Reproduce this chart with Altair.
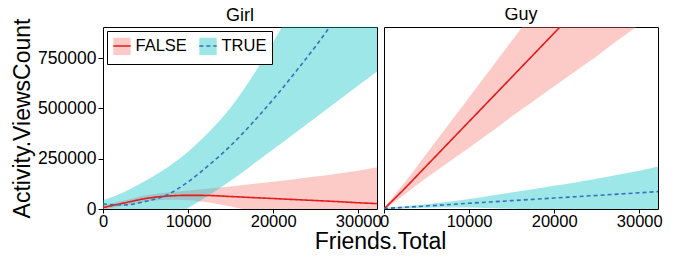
import altair as alt
import pandas as pd

# x grid (Friends.Total)
xs = [0, 2500, 5000, 7500, 10000, 12500, 15000, 17500, 20000, 22500, 25000, 27500, 30000, 32200]

# Girl panel
girl_false_fit = [7000, 30000, 52000, 64000, 68000, 67000, 62000, 57000, 52000, 47000, 42000, 37000, 31000, 27000]
girl_false_hi = [17000, 42000, 68000, 82000, 92000, 102000, 112000, 124000, 136000, 148000, 161000, 175000, 190000, 207000]
girl_false_lo = [-3000, 18000, 36000, 46000, 44000, 32000, 12000, -10000, -32000, -54000, -77000, -101000, -128000, -153000]
girl_true_fit = [25000, 20000, 38000, 70000, 135000, 220000, 315000, 425000, 545000, 675000, 810000, 955000, 1100000, 1240000]
girl_true_hi = [43000, 85000, 140000, 205000, 285000, 385000, 505000, 655000, 830000, 1010000, 1190000, 1370000, 1560000, 1750000]
girl_true_lo = [7000, -30000, -60000, -50000, 5000, 70000, 140000, 218000, 297000, 376000, 455000, 535000, 614000, 684000]

# Guy panel
guy_false_fit = [0, 105000, 215000, 325000, 435000, 545000, 655000, 765000, 875000, 985000, 1095000, 1205000, 1315000, 1410000]
guy_false_hi = [5000, 135000, 275000, 415000, 555000, 695000, 835000, 975000, 1115000, 1255000, 1395000, 1535000, 1675000, 1800000]
guy_false_lo = [-5000, 75000, 155000, 230000, 305000, 380000, 460000, 535000, 610000, 685000, 760000, 840000, 915000, 985000]
guy_true_fit = [2000, 8500, 15000, 21500, 28500, 35000, 41500, 48000, 54500, 61000, 67500, 74000, 80500, 86500]
guy_true_hi = [6000, 14000, 24000, 36000, 50000, 66000, 82000, 98000, 115000, 132000, 150000, 170000, 190000, 211000]
guy_true_lo = [-2000, 3000, 6000, 7000, 7000, 4000, 1000, -2000, -6000, -10000, -14000, -20000, -29000, -38000]

groups = ["FALSE", "TRUE"]
x_ticks = [0, 10000, 20000, 30000]
y_ticks = [0, 250000, 500000, 750000]

series = {
    ("Girl", "FALSE"): (girl_false_fit, girl_false_lo, girl_false_hi),
    ("Girl", "TRUE"): (girl_true_fit, girl_true_lo, girl_true_hi),
    ("Guy", "FALSE"): (guy_false_fit, guy_false_lo, guy_false_hi),
    ("Guy", "TRUE"): (guy_true_fit, guy_true_lo, guy_true_hi),
}

rows = []
for (panel, grp), (fit, lo, hi) in series.items():
    for x, f, l, h in zip(xs, fit, lo, hi):
        rows.append({"panel": panel, "grp": grp, "grp2": grp, "x": x, "fit": f, "lo": l, "hi": h})
df = pd.DataFrame(rows)

FONT = "Liberation Sans"
xscale = alt.Scale(domain=[0, 32200], nice=False, zero=False)
yscale = alt.Scale(domain=[0, 905000], nice=False, zero=False)
fill_scale = alt.Scale(domain=groups, range=["#F8766D", "#00BFC4"])
stroke_scale = alt.Scale(range=["#E41A1C", "#3A6EB5"])
dash_scale = alt.Scale(range=[[1, 0], [4, 3]])
BAND_OPACITY = 0.38

LX, LY = 4, 4
fill_legend = alt.Legend(
    orient="none", legendX=LX, legendY=LY, direction="horizontal", title=None,
    symbolType="square", symbolSize=300, symbolOpacity=BAND_OPACITY, symbolStrokeWidth=1.5,
    symbolStrokeColor="transparent",
    labelFont=FONT, labelFontSize=16.5, labelColor="black", labelOffset=4,
    columnPadding=8, padding=5.5, strokeColor="black", fillColor="white", zindex=1,
)
stroke_legend = alt.Legend(
    orient="none", legendX=LX, legendY=LY, direction="horizontal", title=None,
    symbolType="stroke", symbolSize=300, symbolStrokeWidth=1.5,
    labelFont=FONT, labelFontSize=16.5, labelOpacity=0, labelOffset=4,
    columnPadding=8, padding=5.5, zindex=2,
)

YTITLE_EXT = 10  # how far the rotated y title reaches above the plot


def panel(name, first):
    d = df[df["panel"] == name]
    xaxis = alt.Axis(
        values=x_ticks, format="d", labelFontSize=16.5, labelFont=FONT, labelColor="black",
        tickSize=4, tickColor="black", labelPadding=0, labelFlush=False, labelOverlap=False,
        domain=False, grid=False,
        title="Friends.Total" if first else None,
        titleFontSize=23, titleFont=FONT, titleFontWeight="normal", titleColor="black",
        titleX=277, titleY=21, titleAlign="center", titleBaseline="top",
    )
    if first:
        yaxis = alt.Axis(
            values=y_ticks, format="d", labelFontSize=17.5, labelFont=FONT, labelColor="black",
            tickSize=5, tickColor="black", labelPadding=2, labelFlush=False, labelOverlap=False,
            domain=False, grid=False, title="Activity.ViewsCount",
            titleFontSize=23, titleFont=FONT, titleFontWeight="normal", titleColor="black",
            titlePadding=3,
        )
    else:
        yaxis = None
    base = alt.Chart(d)
    band = base.mark_area(opacity=BAND_OPACITY, interpolate="monotone", clip=True).encode(
        x=alt.X("x:Q", scale=xscale, axis=xaxis),
        y=alt.Y("lo:Q", scale=yscale, axis=yaxis),
        y2="hi:Q",
        fill=alt.Fill("grp:N", scale=fill_scale, legend=fill_legend),
    )
    line = base.mark_line(strokeWidth=1.6, interpolate="monotone", clip=True).encode(
        x=alt.X("x:Q", scale=xscale),
        y=alt.Y("fit:Q", scale=yscale),
        stroke=alt.Stroke("grp2:N", scale=stroke_scale, legend=stroke_legend),
        strokeDash=alt.StrokeDash("grp2:N", scale=dash_scale, legend=stroke_legend),
    )
    off = 3 - YTITLE_EXT if first else 3
    return alt.layer(band, line).properties(
        width=274, height=182,
        title=alt.Title(name, fontSize=18, font=FONT, fontWeight="normal", color="black", offset=off),
    )


chart = alt.hconcat(
    panel("Girl", True), panel("Guy", False), spacing=7, bounds="flush"
).configure_view(
    stroke="black", strokeWidth=1
).properties(padding={"left": 3, "top": -3, "right": 0, "bottom": 0})

chart.save("out.html", embed_options={"renderer": "svg", "actions": False})
